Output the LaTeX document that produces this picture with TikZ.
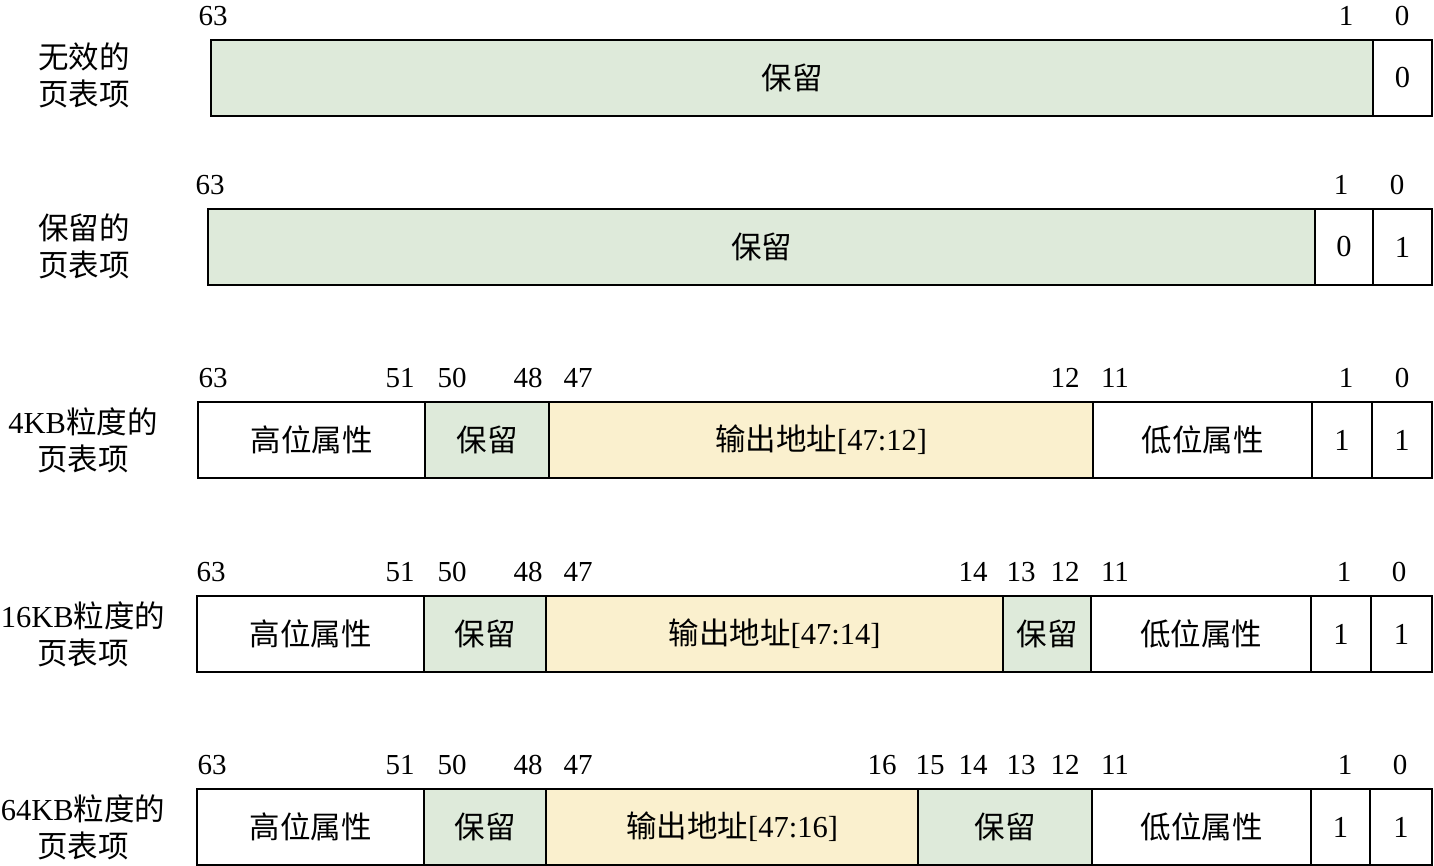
\documentclass[tikz,border=0pt]{standalone}
\usepackage{fontspec}
\setmainfont{Liberation Serif}
\newfontfamily\cjk{Noto Sans CJK SC}
\definecolor{resgreen}{RGB}{222,234,218}
\definecolor{addryellow}{RGB}{250,240,206}
\tikzset{
  fld/.style={draw=black, line width=2pt, inner sep=0pt, outer sep=0pt,
    minimum height=76pt, anchor=north west, font=\fontsize{30.5}{34}\selectfont},
  bitno/.style={anchor=base, inner sep=0pt, font=\fontsize{29}{34}\selectfont},
  rowlbl/.style={align=center, inner sep=0pt, font=\fontsize{30.5}{37}\selectfont}
}
\newcommand\fb[6]{\node[fld, fill=#5, minimum width={#3-#2}] (#1) at (#2,#4) {#6};}
\begin{document}
\begin{tikzpicture}[x=1pt,y=-1pt]
\useasboundingbox (0,0) rectangle (1434,865);
% Row 1
\node[rowlbl] (l1) at (84,75) {\cjk 无效的\\\cjk 页表项};
\fb{a1}{211}{1373}{40}{resgreen}{\cjk 保留}
\fb{a2}{1373}{1432}{40}{white}{0}
\foreach \t/\x in {63/213,1/1346,0/1402}{\node[bitno] (r1n\t) at (\x,25) {\t};}
% Row 2
\node[rowlbl] (l2) at (84,246) {\cjk 保留的\\\cjk 页表项};
\fb{b1}{208}{1315}{209}{resgreen}{\cjk 保留}
\fb{b2}{1315}{1373}{209}{white}{0}
\fb{b3}{1373}{1432}{209}{white}{1}
\foreach \t/\x in {63/210,1/1341,0/1397}{\node[bitno] (r2n\t) at (\x,194) {\t};}
% Row 3
\node[rowlbl] (l3) at (83,440) {4KB{\cjk 粒度的}\\\cjk 页表项};
\fb{c1}{198}{425}{402}{white}{\cjk 高位属性}
\fb{c2}{425}{549}{402}{resgreen}{\cjk 保留}
\fb{c3}{549}{1093}{402}{addryellow}{{\cjk 输出地址}[47:12]}
\fb{c4}{1093}{1312}{402}{white}{\cjk 低位属性}
\fb{c5}{1312}{1372}{402}{white}{1}
\fb{c6}{1372}{1432}{402}{white}{1}
\foreach \t/\x in {63/213,51/400,50/452,48/528,47/578,12/1065,11/1115,1/1346,0/1402}{\node[bitno] (r3n\t) at (\x,387) {\t};}
% Row 4
\node[rowlbl] (l4) at (83,634) {16KB{\cjk 粒度的}\\\cjk 页表项};
\fb{d1}{197}{424}{596}{white}{\cjk 高位属性}
\fb{d2}{424}{546}{596}{resgreen}{\cjk 保留}
\fb{d3}{546}{1003}{596}{addryellow}{{\cjk 输出地址}[47:14]}
\fb{d4}{1003}{1091}{596}{resgreen}{\cjk 保留}
\fb{d5}{1091}{1311}{596}{white}{\cjk 低位属性}
\fb{d6}{1311}{1371}{596}{white}{1}
\fb{d7}{1371}{1432}{596}{white}{1}
\foreach \t/\x in {63/211,51/400,50/452,48/528,47/578,14/973,13/1021,12/1065,11/1115,1/1344,0/1399}{\node[bitno] (r4n\t) at (\x,581) {\t};}
% Row 5
\node[rowlbl] (l5) at (83,827) {64KB{\cjk 粒度的}\\\cjk 页表项};
\fb{e1}{197}{424}{789}{white}{\cjk 高位属性}
\fb{e2}{424}{546}{789}{resgreen}{\cjk 保留}
\fb{e3}{546}{918}{789}{addryellow}{{\cjk 输出地址}[47:16]}
\fb{e4}{918}{1092}{789}{resgreen}{\cjk 保留}
\fb{e5}{1092}{1311}{789}{white}{\cjk 低位属性}
\fb{e6}{1311}{1370}{789}{white}{1}
\fb{e7}{1370}{1432}{789}{white}{1}
\foreach \t/\x in {63/212,51/400,50/452,48/528,47/578,16/882,15/930,14/973,13/1021,12/1065,11/1115,1/1345,0/1400}{\node[bitno] (r5n\t) at (\x,774) {\t};}
\end{tikzpicture}
\end{document}
